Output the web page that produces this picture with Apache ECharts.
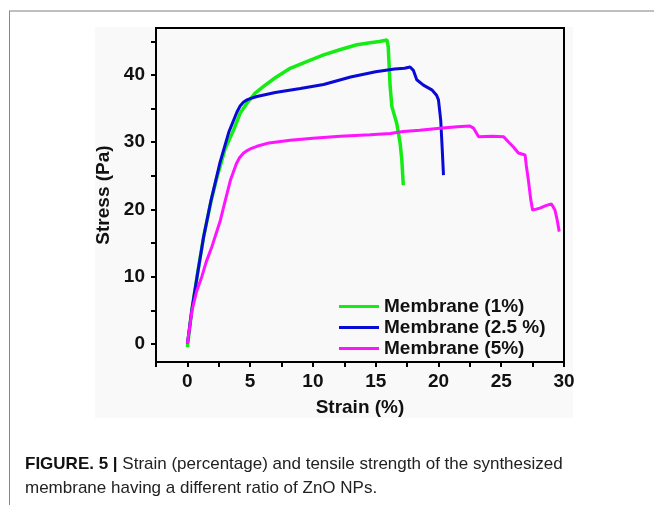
<!DOCTYPE html>
<html>
<head>
<meta charset="utf-8">
<script src="https://cdn.jsdelivr.net/npm/echarts@6/dist/echarts.min.js"></script>
<style>
  html, body { margin: 0; padding: 0; background: #fff; }
  #main { width: 654px; height: 505px; }
</style>
</head>
<body>
<div id="main"></div>
<script>
// Membrane (1%)
const strain1 = [0, 0.35, 0.77, 1.3, 1.89, 2.36, 3.0, 3.68, 4.2, 4.75, 5.4, 6.07, 7.0, 8.19, 9.5, 10.85, 12.2, 13.5, 14.56, 15.3, 15.9, 16.0, 16.15, 16.29, 16.68, 16.95, 17.08, 17.2];
const stress1 = [-0.5, 5, 10, 16, 21.3, 24.8, 29, 31.8, 34.3, 35.8, 37.3, 38.3, 39.6, 41.0, 42.0, 43.0, 43.8, 44.5, 44.8, 45.0, 45.2, 44.2, 38.3, 35.3, 32.8, 29.8, 27.4, 23.6];
// Membrane (2.5 %)
const strain25 = [0, 0.35, 0.77, 1.3, 1.89, 2.6, 3.3, 3.95, 4.2, 4.48, 4.75, 5.0, 5.54, 7.0, 9.0, 10.85, 13.0, 15.0, 16.5, 17.3, 17.74, 18.0, 18.27, 18.8, 19.47, 19.85, 20.0, 20.18, 20.3, 20.4];
const stress25 = [0, 5, 10, 16, 21.4, 27, 31.5, 34.5, 35.4, 36.0, 36.3, 36.5, 36.8, 37.4, 38.0, 38.6, 39.7, 40.5, 40.9, 41.0, 41.2, 40.7, 39.3, 38.5, 37.8, 37.0, 36.3, 33.3, 29.0, 25.1];
// Membrane (5%)
const strain5 = [0, 0.37, 0.75, 1.15, 1.5, 1.96, 2.63, 3.0, 3.42, 3.9, 4.15, 4.48, 4.8, 5.0, 5.54, 6.5, 8.19, 10.0, 12.17, 14.56, 16.15, 17.2, 18.5, 20.1, 21.5, 22.5, 22.8, 23.2, 24.3, 25.2, 25.6, 25.97, 26.37, 26.9, 27.0, 27.16, 27.35, 27.5, 28.08, 28.6, 29.0, 29.28, 29.45, 29.62];
const stress5 = [0, 5, 7.9, 10, 12.2, 14.5, 18.4, 21.2, 24.3, 26.8, 27.7, 28.4, 28.8, 29.0, 29.4, 29.9, 30.3, 30.6, 30.9, 31.1, 31.3, 31.6, 31.8, 32.1, 32.3, 32.4, 32.1, 30.8, 30.9, 30.8, 30.0, 29.3, 28.4, 28.1, 26.5, 24.4, 21.5, 19.9, 20.2, 20.6, 20.8, 19.9, 18.5, 16.7];

const seriesNames = ['Membrane (1%)', 'Membrane (2.5 %)', 'Membrane (5%)'];
const seriesColors = ['#14ec14', '#0a0ad6', '#ff14ff'];

const xTicks = [-2.5, 0, 2.5, 5, 7.5, 10, 12.5, 15, 17.5, 20, 22.5, 25, 27.5, 30];
const xLabels = [0, 5, 10, 15, 20, 25, 30];
const yTicks = [0, 5, 10, 15, 20, 25, 30, 35, 40, 45];
const yLabels = [0, 10, 20, 30, 40];

const zip = (xs, ys) => xs.map((x, i) => [x, ys[i]]);
const curves = [zip(strain1, stress1), zip(strain25, stress25), zip(strain5, stress5)];

const font = 'Liberation Sans, Arial, sans-serif';

let myChart = echarts.init(document.getElementById('main'));
let option = {
  backgroundColor: '#fff',
  animation: false,
  graphic: [
    { type: 'rect', z: -10, shape: { x: 95, y: 27, width: 478, height: 391 }, style: { fill: '#f9f9f9' } },
    { type: 'line', shape: { x1: 9, y1: 11, x2: 654, y2: 11 }, style: { stroke: '#aaa', lineWidth: 1.5 } },
    { type: 'line', shape: { x1: 9.5, y1: 11, x2: 9.5, y2: 505 }, style: { stroke: '#888', lineWidth: 1 } },
    {
      type: 'text', left: 25, top: 452,
      style: {
        text: '{b|FIGURE. 5 |} Strain (percentage) and tensile strength of the synthesized\nmembrane having a different ratio of ZnO NPs.',
        font: '17px "Liberation Sans", sans-serif',
        fill: '#222',
        lineHeight: 24,
        rich: {
          b: { fontWeight: 'bold', fontSize: 17, fontFamily: 'Liberation Sans, sans-serif', fill: '#111' }
        }
      }
    }
  ],
  grid: {
    left: 156, right: 90, top: 28, bottom: 143,
    show: true, borderColor: '#000', borderWidth: 2, backgroundColor: 'transparent'
  },
  legend: {
    orient: 'vertical',
    left: 334, top: 292,
    icon: 'rect',
    itemWidth: 40, itemHeight: 3, itemGap: 2,
    textStyle: { fontFamily: font, fontWeight: 'bold', fontSize: 19, color: '#111' },
    data: seriesNames
  },
  xAxis: {
    type: 'value', min: -2.5, max: 30,
    name: 'Strain (%)', nameLocation: 'middle', nameGap: 36,
    nameTextStyle: { fontFamily: font, fontWeight: 'bold', fontSize: 19, color: '#111' },
    splitLine: { show: false },
    axisLine: { onZero: false, lineStyle: { color: '#000', width: 2 } },
    axisTick: { customValues: xTicks, length: 5, lineStyle: { width: 2, color: '#000' } },
    axisLabel: { customValues: xLabels, margin: 10, fontFamily: font, fontWeight: 'bold', fontSize: 19, color: '#111' }
  },
  yAxis: {
    type: 'value', min: -2.7, max: 47,
    name: 'Stress (Pa)', nameLocation: 'middle', nameGap: 43, nameRotate: 90,
    nameTextStyle: { fontFamily: font, fontWeight: 'bold', fontSize: 19, color: '#111' },
    splitLine: { show: false },
    axisLine: { onZero: false, lineStyle: { color: '#000', width: 2 } },
    axisTick: { customValues: yTicks, length: 5, lineStyle: { width: 2, color: '#000' } },
    axisLabel: { customValues: yLabels, margin: 11, fontFamily: font, fontWeight: 'bold', fontSize: 19, color: '#111' }
  },
  series: curves.map((d, i) => ({
    name: seriesNames[i],
    type: 'line',
    data: d,
    symbol: 'none',
    smooth: false,
    z: 2 + i,
    lineStyle: { color: seriesColors[i], width: i === 0 ? 3.5 : 3 },
    itemStyle: { color: seriesColors[i] }
  }))
};
myChart.setOption(option);
</script>
</body>
</html>
